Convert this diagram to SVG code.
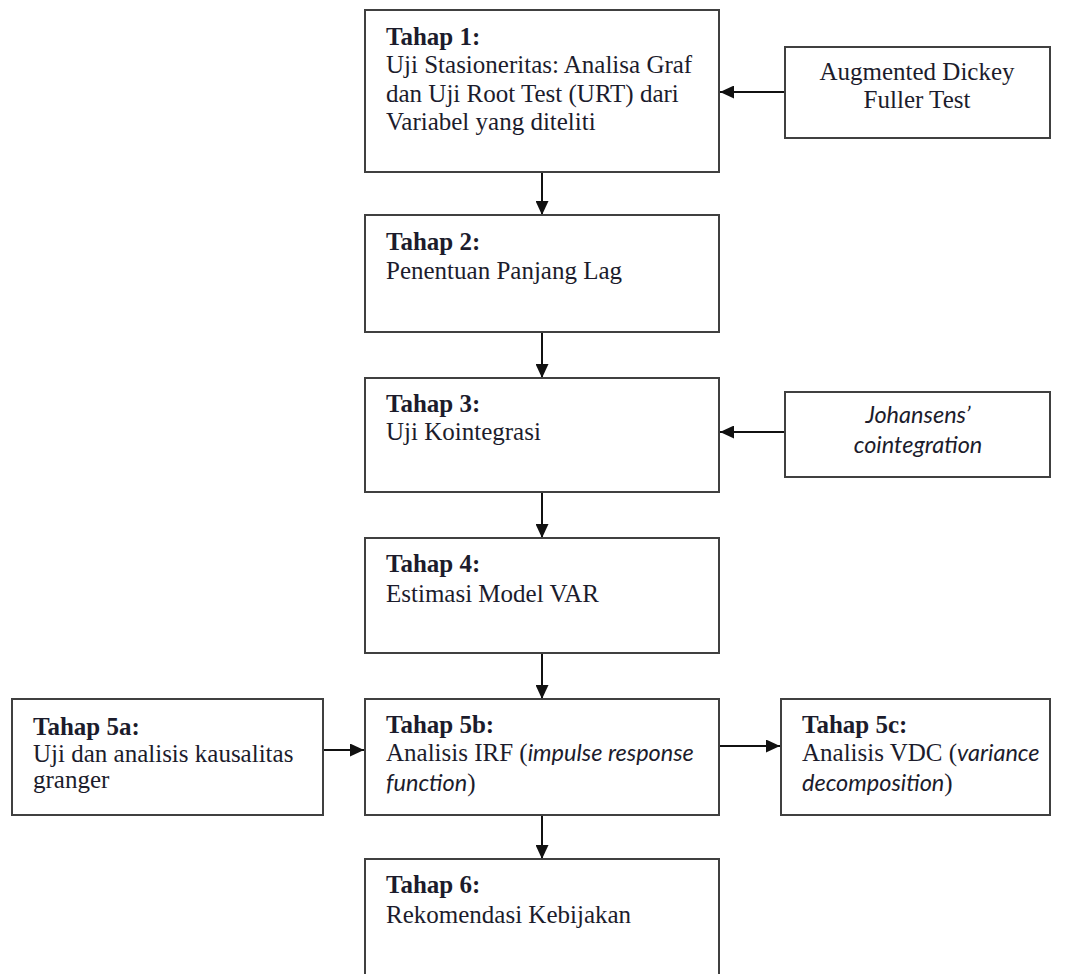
<svg xmlns="http://www.w3.org/2000/svg" width="1070" height="974" viewBox="0 0 1070 974">
<style>
.box{fill:#fff;stroke:#404040;stroke-width:2}
.t{font-family:"Liberation Serif","Times New Roman",serif;font-size:25px;fill:#1c1c2c}
.b{font-weight:bold}
.i{font-family:Lato,"Open Sans",sans-serif;font-style:italic;font-size:23.5px}
.c{text-anchor:middle}
.con{stroke:#111;stroke-width:2;fill:none;marker-end:url(#ah)}
</style>
<defs>
<marker id="ah" markerWidth="14" markerHeight="13" refX="14" refY="6.5" orient="auto" markerUnits="userSpaceOnUse">
<path d="M0,0 L14,6.5 L0,13 Z" fill="#111"/>
</marker>
</defs>
<rect width="1070" height="974" fill="#fff"/>
<g id="connectors">
<line class="con" x1="542" y1="172" x2="542" y2="215"/>
<line class="con" x1="542" y1="332" x2="542" y2="378"/>
<line class="con" x1="542" y1="492" x2="542" y2="538"/>
<line class="con" x1="542" y1="653" x2="542" y2="699"/>
<line class="con" x1="542" y1="815" x2="542" y2="859"/>
<line class="con" x1="785" y1="92" x2="720" y2="92"/>
<line class="con" x1="785" y1="432" x2="720" y2="432"/>
<line class="con" x1="323" y1="750" x2="364" y2="750"/>
<line class="con" x1="719" y1="746" x2="780" y2="746"/>
</g>
<g id="tahap1">
<rect class="box" x="365" y="10" width="354" height="162"/>
<text class="t b" x="386" y="45">Tahap 1:</text>
<text class="t" x="386" y="73">Uji Stasioneritas: Analisa Graf</text>
<text class="t" x="386" y="102">dan Uji Root Test (URT) dari</text>
<text class="t" x="386" y="130">Variabel yang diteliti</text>
</g>
<g id="adf">
<rect class="box" x="785" y="47" width="265" height="91"/>
<text class="t c" x="917" y="80">Augmented Dickey</text>
<text class="t c" x="917" y="108">Fuller Test</text>
</g>
<g id="tahap2">
<rect class="box" x="365" y="215" width="354" height="117"/>
<text class="t b" x="386" y="250">Tahap 2:</text>
<text class="t" x="386" y="279">Penentuan Panjang Lag</text>
</g>
<g id="tahap3">
<rect class="box" x="365" y="378" width="354" height="114"/>
<text class="t b" x="386" y="412">Tahap 3:</text>
<text class="t" x="386" y="440">Uji Kointegrasi</text>
</g>
<g id="johansen">
<rect class="box" x="785" y="392" width="265" height="85"/>
<text class="t i c" x="918" y="423">Johansens’</text>
<text class="t i c" x="918" y="453">cointegration</text>
</g>
<g id="tahap4">
<rect class="box" x="365" y="538" width="354" height="115"/>
<text class="t b" x="386" y="572">Tahap 4:</text>
<text class="t" x="386" y="602">Estimasi Model VAR</text>
</g>
<g id="tahap5a">
<rect class="box" x="12" y="699" width="311" height="116"/>
<text class="t b" x="33" y="735">Tahap 5a:</text>
<text class="t" x="33" y="762">Uji dan analisis kausalitas</text>
<text class="t" x="33" y="788">granger</text>
</g>
<g id="tahap5b">
<rect class="box" x="365" y="699" width="354" height="116"/>
<text class="t b" x="386" y="733">Tahap 5b:</text>
<text class="t" x="386" y="761">Analisis IRF (<tspan class="i">impulse response</tspan></text>
<text class="t" x="386" y="791"><tspan class="i">function</tspan>)</text>
</g>
<g id="tahap5c">
<rect class="box" x="781" y="699" width="269" height="116"/>
<text class="t b" x="802" y="733">Tahap 5c:</text>
<text class="t" x="802" y="761">Analisis VDC (<tspan class="i">variance</tspan></text>
<text class="t" x="802" y="791"><tspan class="i">decomposition</tspan>)</text>
</g>
<g id="tahap6">
<rect class="box" x="365" y="859" width="354" height="130"/>
<text class="t b" x="386" y="893">Tahap 6:</text>
<text class="t" x="386" y="923">Rekomendasi Kebijakan</text>
</g>
</svg>
